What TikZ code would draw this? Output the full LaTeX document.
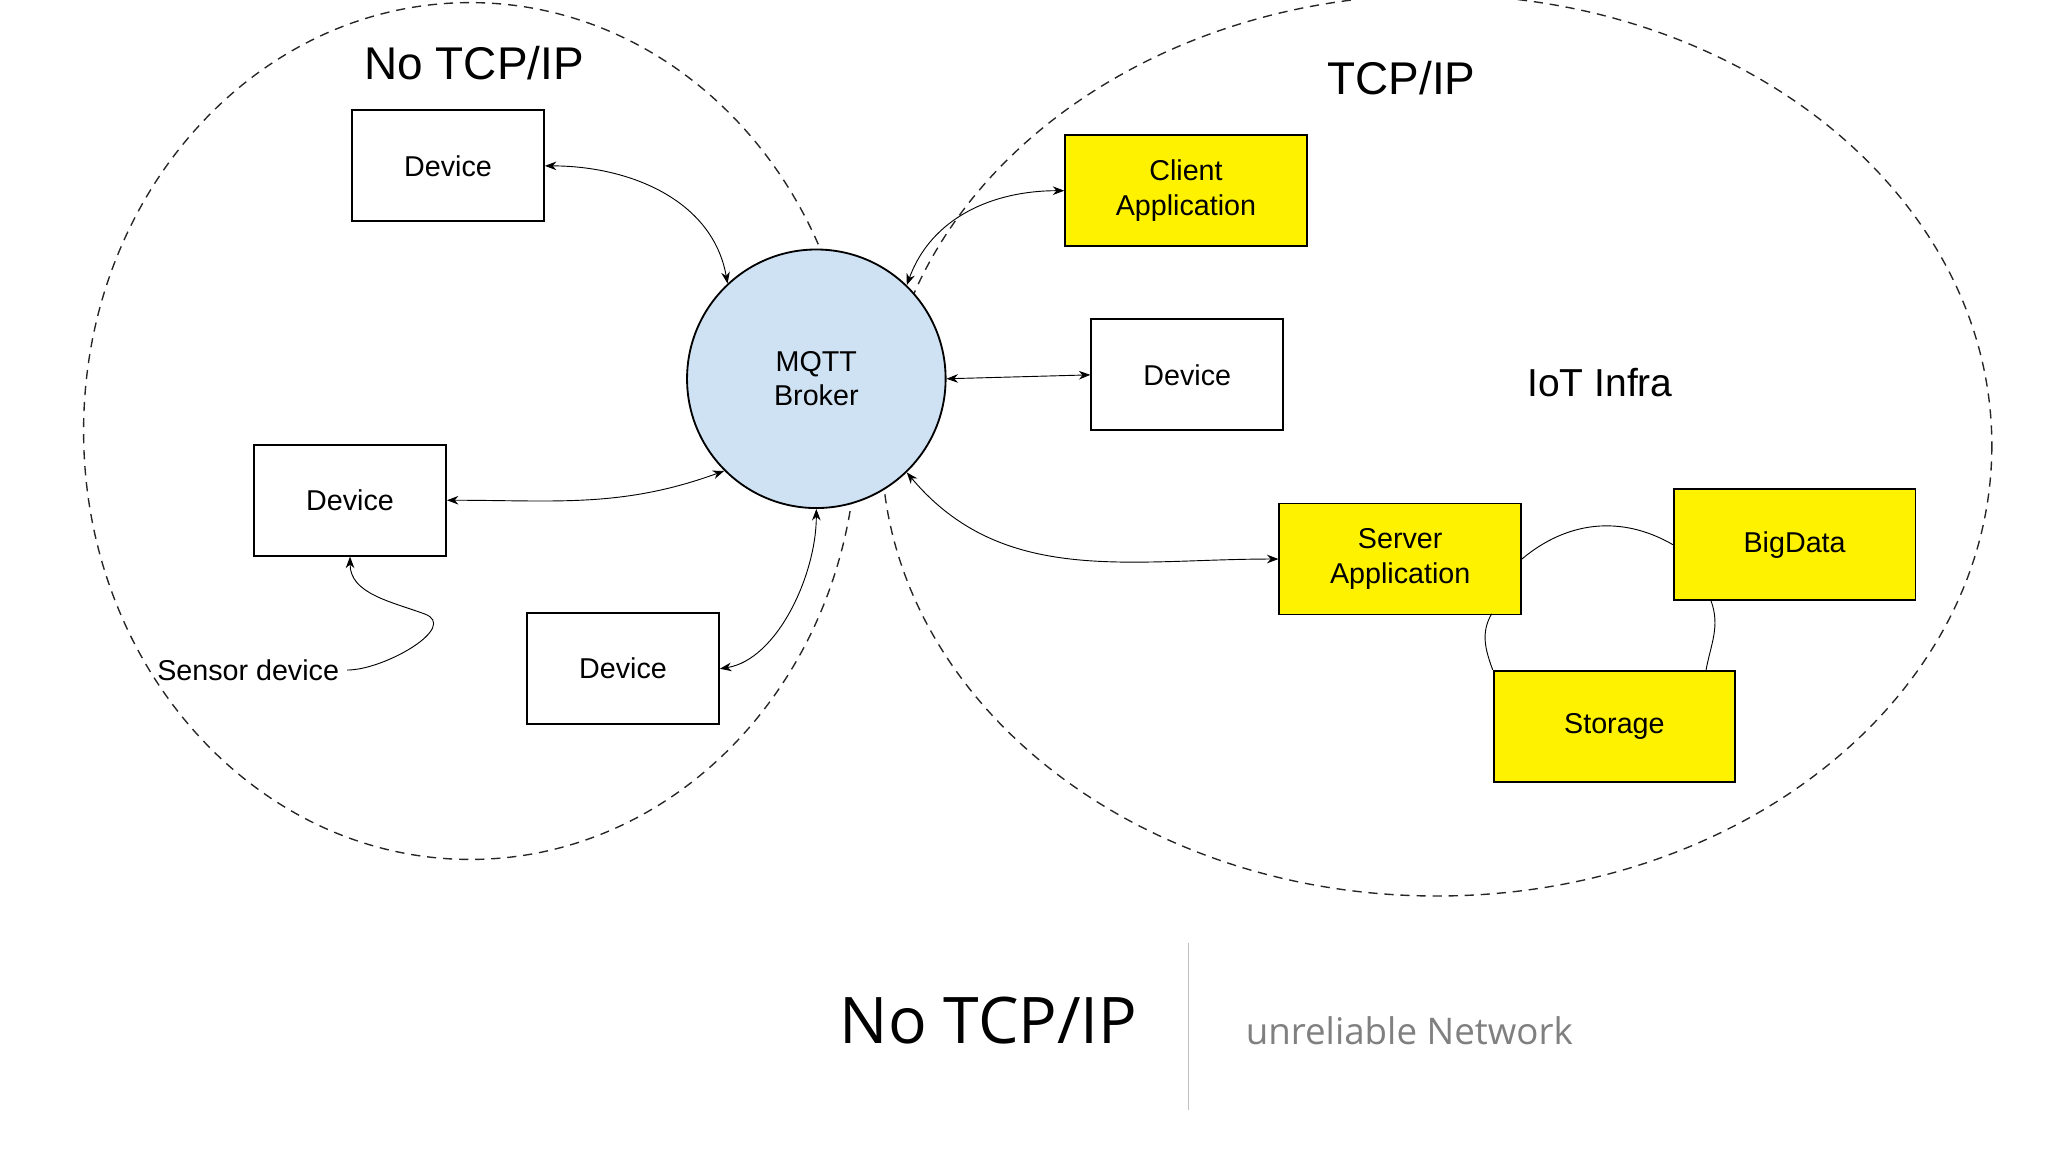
\documentclass[tikz,border=0pt]{standalone}
\usepackage{fontspec}
\setmainfont{Liberation Sans}
\newfontfamily\opensans{Open Sans}
\usetikzlibrary{arrows.meta}
\definecolor{brokerblue}{HTML}{CFE2F3}
\tikzset{
  box/.style={draw, thick, minimum width=2.94cm, minimum height=1.7cm, align=center, font=\fontsize{12.5}{15}\selectfont},
  ybox/.style={box, fill=yellow, minimum width=3.7cm},
  link/.style={{Stealth[length=5pt]}-{Stealth[length=5pt]}, thin},
  zone/.style={dash pattern=on 4pt off 3pt, semithick, gray!30!black},
}
\begin{document}
\begin{tikzpicture}[x=0.02cm, y=-0.02cm]
\useasboundingbox (0,0) rectangle (1568,882);
% zones
\draw[zone] (360,330) ellipse (296 and 328);
\draw[zone] (1100,341) ellipse (425 and 345);
\node[font=\fontsize{20}{24}\selectfont] (lt) at (363,48) {No TCP/IP};
\node[font=\fontsize{20}{24}\selectfont] (rt) at (1073,60) {TCP/IP};
\node[font=\fontsize{17}{20}\selectfont] (iot) at (1225,293) {IoT Infra};

% broker
\node[circle, draw, thick, fill=brokerblue, minimum size=3.96cm, align=center,
      font=\fontsize{12.5}{15}\selectfont] (broker) at (625,290) {MQTT\\Broker};

% devices
\node[box] (dev1) at (343,127) {Device};
\node[box] (dev2) at (268,383) {Device};
\node[box] (dev3) at (477,512) {Device};
\node[box] (dev4) at (909,287) {Device};
\node[ybox] (client) at (908,146) {Client\\Application};
\node[ybox] (server) at (1072,428) {Server\\Application};
\node[ybox] (bigdata) at (1374,417) {BigData};
\node[ybox] (storage) at (1236,556) {Storage};
\node[font=\fontsize{12.5}{15}\selectfont] (sensor) at (190,513) {Sensor device};

% links
\draw[link] (dev1.east) to[out=0, in=100] (broker.133);
\draw[link] (dev2.east) to[out=0, in=200] (broker.225);
\draw[link] (dev3.east) .. controls (595,505) and (625,440) .. (broker.south);
\draw[link] (client.west) to[out=180, in=70] (broker.46);
\draw[link] (dev4.west) -- (broker.east);
\draw[link] (server.west) to[out=180, in=-50] (broker.314);
\draw[-{Stealth[length=5pt]}, thin] (sensor.east) to[out=0, in=-20] (325,470) to[out=160, in=-90] (dev2.south);
\draw[thin] (server.east) to[out=40, in=150] (bigdata.west);
\draw[thin] (1310,460) to[out=-70, in=80] (1306,514);
\draw[thin] (1142,470) to[out=240, in=110] (storage.north west);

% bottom caption
\draw[gray!50, thin] (910,722) -- (910,850);
\node[font=\opensans\fontsize{28}{32}\selectfont] (cap) at (757,781) {No TCP/IP};
\node[font=\opensans\fontsize{16}{20}\selectfont, text=gray] (sub) at (1079,789) {unreliable Network};
\end{tikzpicture}
\end{document}
